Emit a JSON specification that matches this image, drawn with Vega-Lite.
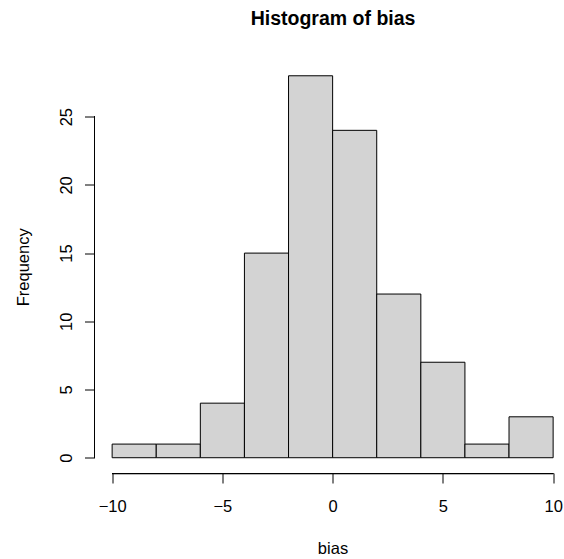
{
  "$schema": "https://vega.github.io/schema/vega-lite/v6.json",
  "width": 469.5,
  "height": 412.5,
  "autosize": {"type": "none"},
  "padding": {"left": 94.5, "top": 60.5, "right": 0, "bottom": 86},
  "background": "white",
  "title": {
    "text": "Histogram of bias",
    "font": "Liberation Sans",
    "fontSize": 19.5,
    "fontWeight": "bold",
    "color": "black",
    "anchor": "middle",
    "dx": 3.8,
    "baseline": "alphabetic",
    "offset": 16.5
  },
  "config": {
    "view": {"stroke": null},
    "font": "Liberation Sans",
    "axis": {"domain": false, "grid": false}
  },
  "data": {
    "values": [
      {"start": -10, "end": -8, "count": 1},
      {"start": -8, "end": -6, "count": 1},
      {"start": -6, "end": -4, "count": 4},
      {"start": -4, "end": -2, "count": 15},
      {"start": -2, "end": 0, "count": 28},
      {"start": 0, "end": 2, "count": 24},
      {"start": 2, "end": 4, "count": 12},
      {"start": 4, "end": 6, "count": 7},
      {"start": 6, "end": 8, "count": 1},
      {"start": 8, "end": 10, "count": 3}
    ]
  },
  "layer": [
    {
      "mark": {"type": "bar", "fill": "#D3D3D3", "stroke": "black", "strokeWidth": 1},
      "encoding": {
        "x": {
          "field": "start",
          "type": "quantitative",
          "scale": {"domain": [-10.8, 10.493], "nice": false, "zero": false},
          "axis": {
            "title": "bias",
            "values": [-10, -5, 0, 5, 10],
            "domain": false,
            "grid": false,
            "tickSize": 10,
            "tickColor": "black",
            "tickWidth": 1,
            "labelFont": "Liberation Sans",
            "labelFontSize": 16.5,
            "labelColor": "black",
            "labelBaseline": "alphabetic",
            "labelPadding": 28.5,
            "labelFlush": false,
            "labelOverlap": false,
            "titleFont": "Liberation Sans",
            "titleFontSize": 16.5,
            "titleFontWeight": "normal",
            "titleColor": "black",
            "titleX": 238,
            "titleY": 80.6,
            "titleAlign": "center",
            "titleBaseline": "alphabetic"
          }
        },
        "x2": {"field": "end"},
        "y": {
          "field": "count",
          "type": "quantitative",
          "stack": null,
          "scale": {"domain": [-1.12, 29.12], "nice": false, "zero": false},
          "axis": {
            "title": "Frequency",
            "values": [0, 5, 10, 15, 20, 25],
            "domain": false,
            "grid": false,
            "tickSize": 10,
            "tickColor": "black",
            "tickWidth": 1,
            "labelFont": "Liberation Sans",
            "labelFontSize": 16.5,
            "labelColor": "black",
            "labelAngle": -90,
            "labelAlign": "center",
            "labelBaseline": "alphabetic",
            "labelPadding": 13.3,
            "labelFlush": false,
            "labelOverlap": false,
            "titleFont": "Liberation Sans",
            "titleFontSize": 16.5,
            "titleFontWeight": "normal",
            "titleColor": "black",
            "titleAngle": -90,
            "titleX": -66.2,
            "titleY": 206.3,
            "titleAlign": "center",
            "titleBaseline": "alphabetic"
          }
        },
        "y2": {"datum": 0}
      }
    },
    {
      "mark": {"type": "rule", "color": "black", "strokeWidth": 1},
      "encoding": {
        "x": {"datum": -10, "type": "quantitative"},
        "x2": {"datum": 10},
        "y": {"datum": -1.159, "type": "quantitative"}
      }
    },
    {
      "mark": {"type": "rule", "color": "black", "strokeWidth": 1},
      "encoding": {
        "x": {"datum": -10.8, "type": "quantitative"},
        "y": {"datum": 0, "type": "quantitative"},
        "y2": {"datum": 25}
      }
    }
  ]
}
